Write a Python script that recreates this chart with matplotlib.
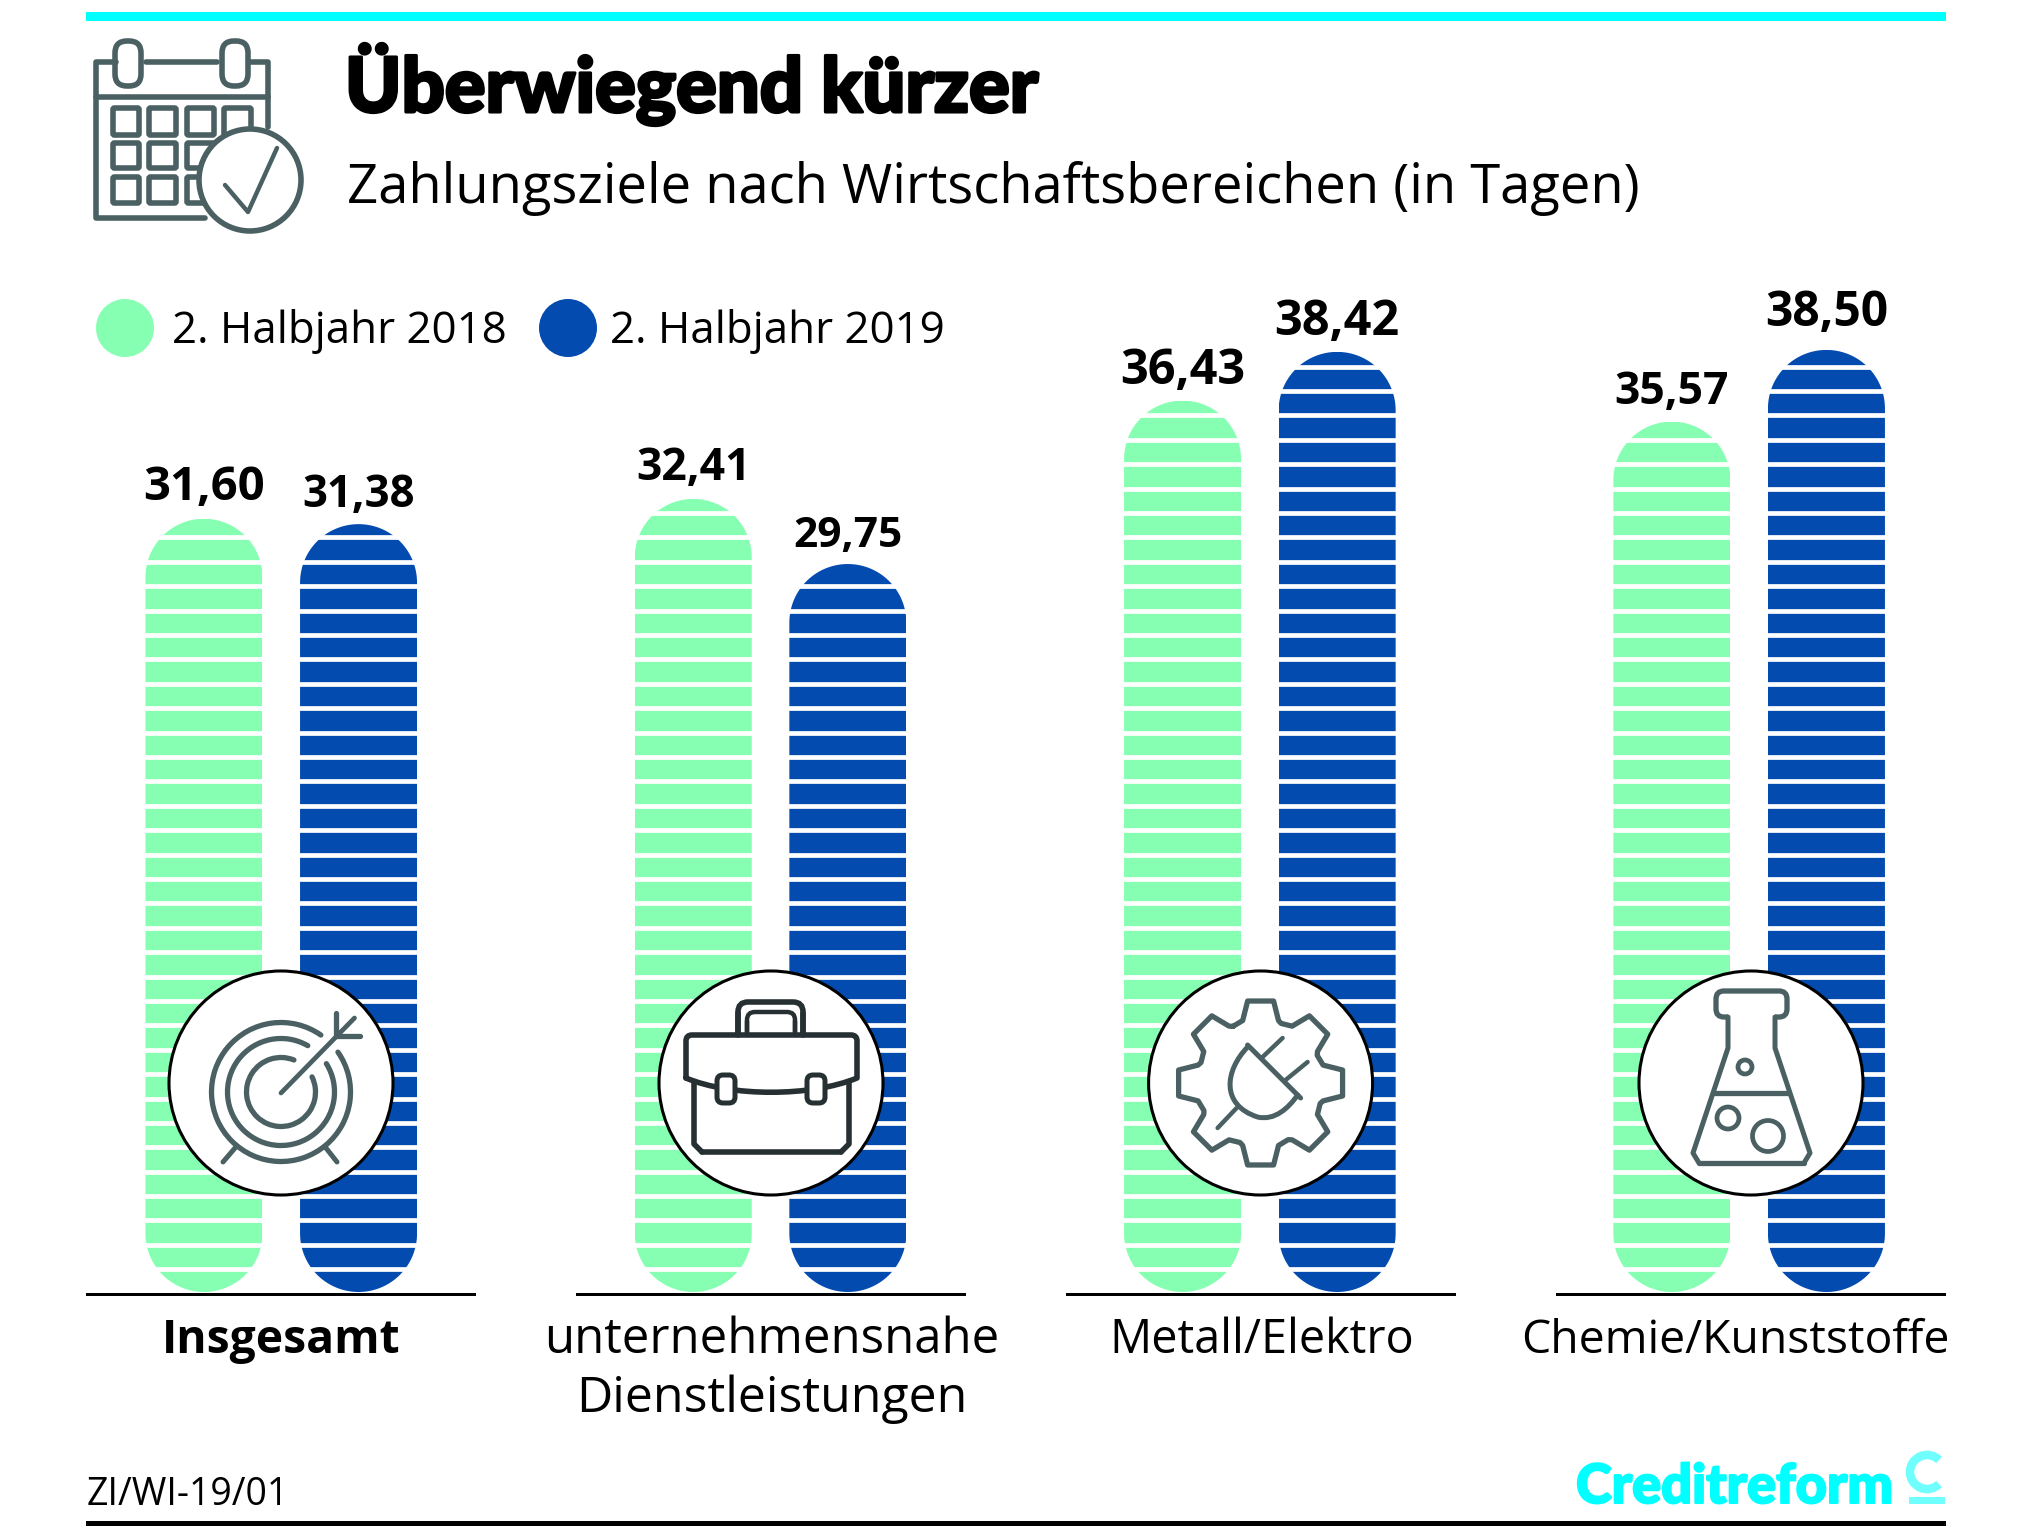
from __future__ import annotations

import matplotlib

matplotlib.use("Agg")

import matplotlib.patheffects as pe
import matplotlib.pyplot as mp
import numpy as np
from matplotlib.patches import Arc, Circle, FancyBboxPatch, PathPatch, Rectangle
from matplotlib.path import Path

# data
categories = ["Insgesamt", "unternehmensnahe\nDienstleistungen", "Metall/Elektro", "Chemie/Kunststoffe"]
series_names = ["2. Halbjahr 2018", "2. Halbjahr 2019"]
values_2018 = [31.60, 32.41, 36.43, 35.57]
values_2019 = [31.38, 29.75, 38.42, 38.50]
title = "Überwiegend kürzer"
subtitle = "Zahlungsziele nach Wirtschaftsbereichen (in Tagen)"
source = "ZI/WI-19/01"
brand = "Creditreform"

W, H = 2036, 1526
GREEN = "#86ffb2"
BLUE = "#044bb0"
CYAN = "#00ffff"
ICON = "#4a6063"
DARK = "#263033"
FONT = "Open Sans"

GROUP_X0, GROUP_STEP = 281.25, 489.3
PX_PER_DAY = 24.47
BASE_Y = 1292.0


def capsule(cx: float, width: float, height: float, ry: float) -> Path:
    t = np.linspace(0, np.pi, 60)
    rx = width / 2
    top = np.column_stack([cx + rx * np.cos(t), height - ry + ry * np.sin(t)])
    bot = np.column_stack([cx - rx * np.cos(t), ry - ry * np.sin(t)])
    pts = np.vstack([top, bot, top[:1]])
    return Path(pts, closed=True)


def line(ax, xs, ys, color=ICON, lw=3.6) -> None:
    ax.plot(xs, ys, color=color, lw=lw, solid_capstyle="round", solid_joinstyle="round", zorder=6)


def box(ax, x0, y0, x1, y1, color=ICON, lw=3.6, pad=4.0, fc="none", zorder=6) -> None:
    ax.add_patch(
        FancyBboxPatch(
            (x0 + pad, y0 + pad), x1 - x0 - 2 * pad, y1 - y0 - 2 * pad,
            boxstyle=f"round,pad={pad},rounding_size={pad}",
            fc=fc, ec=color, lw=lw, zorder=zorder,
        )
    )


def curve(ax, verts, codes, color=ICON, lw=3.6) -> None:
    ax.add_patch(PathPatch(Path(verts, codes), fc="none", ec=color, lw=lw,
                           capstyle="round", joinstyle="round", zorder=6))


def draw_calendar(ax) -> None:
    line(ax, [205, 96, 96, 116], [218, 218, 62, 62], lw=4)
    line(ax, [146, 217], [62, 62], lw=4)
    line(ax, [250, 268, 268], [62, 62, 127], lw=4)
    line(ax, [96, 268], [97, 97], lw=4)
    for cx in (128, 235):
        box(ax, cx - 13, 41, cx + 13, 86, pad=12, lw=4)
    for x0, x1 in ((113, 139), (149, 176), (187, 214), (224, 251)):
        for y0, y1 in ((108, 135), (143, 168), (177, 203)):
            box(ax, x0, y0, x1, y1, pad=1.5, lw=4)
    ax.add_patch(Circle((250, 180), 51, fc="white", ec=ICON, lw=4, zorder=7))
    ax.plot([225, 248, 277], [185, 212, 148], color=ICON, lw=3.2, zorder=8, solid_capstyle="round")


def draw_target(ax, cx, cy) -> None:
    for r, a0, a1 in ((69.5, 55, 395), (53.5, 60, 392), (34.5, 68, 386)):
        # y axis is inverted, so angles run the other way around
        ax.add_patch(Arc((cx, cy + 9), 2 * r, 2 * r, theta1=-a1, theta2=-a0, ec=ICON, lw=3.8,
                         capstyle="round", zorder=6))
    line(ax, [cx, cx + 73.5], [cy + 10, cy - 65], lw=3.4)
    line(ax, [cx + 55.5, cx + 55.5], [cy - 70, cy - 47], lw=3.8)
    line(ax, [cx + 55.5, cx + 79], [cy - 47, cy - 47], lw=3.8)
    line(ax, [cx - 46, cx - 58], [cy + 65, cy + 79], lw=3.6)
    line(ax, [cx + 45, cx + 56], [cy + 65, cy + 79], lw=3.6)


def draw_case(ax, cx, cy) -> None:
    box(ax, cx - 33, cy - 81, cx + 32, cy - 30, color=DARK, pad=10, lw=4)
    box(ax, cx - 24, cy - 71, cx + 24, cy - 30, color=DARK, pad=8, lw=3.2)
    ax.add_patch(Rectangle((cx - 40, cy - 49), 82, 26, fc="white", ec="none", zorder=6))
    line(ax, [cx - 33, cx - 33], [cy - 70, cy - 48], color=DARK, lw=4)
    line(ax, [cx + 32, cx + 32], [cy - 70, cy - 48], color=DARK, lw=4)
    line(ax, [cx - 24, cx - 24], [cy - 62, cy - 48], color=DARK, lw=3.2)
    line(ax, [cx + 24, cx + 24], [cy - 62, cy - 48], color=DARK, lw=3.2)
    x0, x1 = cx - 85, cx + 86
    verts = [(x0, cy - 5), (x0, cy - 42), (x0, cy - 48), (x0 + 6, cy - 48), (x1 - 6, cy - 48),
             (x1, cy - 48), (x1, cy - 42), (x1, cy - 5),
             (cx + 40, cy + 14), (cx - 40, cy + 14), (x0, cy - 5)]
    codes = [Path.MOVETO, Path.LINETO, Path.CURVE3, Path.CURVE3, Path.LINETO,
             Path.CURVE3, Path.CURVE3, Path.LINETO, Path.CURVE4, Path.CURVE4, Path.CURVE4]
    curve(ax, verts, codes, color=DARK, lw=4)
    line(ax, [cx - 77, cx - 77, cx - 69], [cy - 1, cy + 61, cy + 69], color=DARK, lw=4)
    line(ax, [cx - 69, cx + 70], [cy + 69, cy + 69], color=DARK, lw=4)
    line(ax, [cx + 78, cx + 78, cx + 70], [cy - 1, cy + 61, cy + 69], color=DARK, lw=4)
    for off in (-45, 45):
        box(ax, cx + off - 9, cy - 8, cx + off + 9, cy + 20, color=DARK, pad=6, fc="white", lw=3.6)


def draw_gear(ax, cx, cy) -> None:
    xs, ys = [], []
    r_out, r_in = 83, 63
    for k in range(8):
        a = np.deg2rad(k * 45 - 90)
        for da, r in ((-26, r_in), (-16, r_in + 2), (-9, r_out), (9, r_out), (16, r_in + 2)):
            xs.append(cx + r * np.cos(a + np.deg2rad(da)))
            ys.append(cy + r * np.sin(a + np.deg2rad(da)))
    line(ax, xs + xs[:1], ys + ys[:1], lw=3.8)
    line(ax, [cx - 13, cx + 40], [cy - 38, cy + 15], lw=3.6)
    curve(ax, [(cx - 13, cy - 36), (cx - 36, cy - 12), (cx - 40, cy + 22), (cx - 3, cy + 34),
               (cx + 14, cy + 38), (cx + 28, cy + 25), (cx + 37, cy + 12)],
          [Path.MOVETO, Path.CURVE4, Path.CURVE4, Path.CURVE4, Path.CURVE4, Path.CURVE4, Path.CURVE4],
          lw=3.6)
    line(ax, [cx + 2, cx + 22], [cy - 26, cy - 45], lw=3.2)
    line(ax, [cx + 25, cx + 47], [cy - 3, cy - 21], lw=3.2)
    line(ax, [cx - 24, cx - 43], [cy + 25, cy + 45], lw=3.2)


def draw_flask(ax, cx, cy) -> None:
    box(ax, cx - 35, cy - 92, cx + 36, cy - 66, pad=8, lw=3.8)
    ax.add_patch(Rectangle((cx - 23, cy - 70), 47, 8, fc="white", ec="none", zorder=6))
    line(ax, [cx - 23, cx - 23, cx - 58, cx - 52], [cy - 66, cy - 35, cy + 70, cy + 80])
    line(ax, [cx + 24, cx + 24, cx + 59, cx + 53], [cy - 66, cy - 35, cy + 70, cy + 80])
    line(ax, [cx - 52, cx + 53], [cy + 80, cy + 80], lw=3.8)
    line(ax, [cx - 37, cx + 38], [cy + 10, cy + 10], lw=3.8)
    for bx, by, r in ((-6, -16, 7), (-23, 35, 11), (17, 53, 15.5)):
        ax.add_patch(Circle((cx + bx, cy + by), r, fc="none", ec=ICON, lw=3.4, zorder=6))


mp.rcParams["font.family"] = [FONT, "DejaVu Sans"]
fig = mp.figure(figsize=(W / 100, H / 100), dpi=100, facecolor="white")

# data axes: x in groups, y in days, laid over the whole figure
ax = fig.add_axes([0, 0, 1, 1])
ax.set_xlim(-GROUP_X0 / GROUP_STEP, (W - GROUP_X0) / GROUP_STEP)
ax.set_ylim((BASE_Y - H) / PX_PER_DAY, BASE_Y / PX_PER_DAY)
ax.axis("off")

bar_w = 117.0 / GROUP_STEP
offset = 77.3 / GROUP_STEP
cap_ry = 58.5 / PX_PER_DAY
x = np.arange(len(categories))
label_sizes = [[34, 32, 35, 32], [31.5, 30.5, 35, 34.5]]
label_lift = [[13.5, 13.5, 12, 13], [12, 12, 12, 17.5]]

for k, (vals, col, sizes, lifts) in enumerate(zip((values_2018, values_2019), (GREEN, BLUE), label_sizes, label_lift)):
    xs = x + (2 * k - 1) * offset
    bars = ax.bar(xs, vals, width=bar_w, color=col, zorder=2)
    for rect, cx, v, fs, lift in zip(bars, xs, vals, sizes, lifts):
        rect.set_clip_path(capsule(cx, bar_w, v, cap_ry), transform=ax.transData)
        gaps = np.arange(0.928, v, 0.997)
        ax.hlines(gaps, cx - bar_w / 2 - 0.005, cx + bar_w / 2 + 0.005, color="white", lw=3.4, zorder=3)
        ax.annotate(f"{v:.2f}".replace(".", ","), (cx, v), xytext=(0, lift), textcoords="offset points",
                    ha="center", va="baseline", fontsize=fs, fontweight="bold", color="black")

# overlay axes in image pixels for the decoration
ov = fig.add_axes([0, 0, 1, 1], zorder=5)
ov.set_xlim(0, W)
ov.set_ylim(H, 0)
ov.axis("off")
ov.patch.set_alpha(0)

ov.add_patch(Rectangle((86, 12), 1860, 9, fc=CYAN, ec="none"))
ov.add_patch(Rectangle((86, 1521), 1860, 4.5, fc="black", ec="none"))
draw_calendar(ov)

ov.text(345, 112, title, fontsize=54.6, fontweight="black", family="Lato", color="black", va="baseline",
        path_effects=[pe.withStroke(linewidth=2.2, foreground="black")])
ov.text(347, 203, subtitle, fontsize=39.2, color="black", va="baseline")

for cx, col, tx, name in zip((125, 568), (GREEN, BLUE), (172, 610), series_names):
    ov.add_patch(Circle((cx, 328), 29, fc=col, ec="none"))
    ov.text(tx, 343, name, fontsize=31.6, color="black", va="baseline")

rule_x = [86, 576, 1066, 1556]
cat_x = [281, 772, 1262, 1735]
cat_sizes = [[33.3], [35.4, 36], [33.7], [33.3]]
for i, (name, rx, cx, sizes) in enumerate(zip(categories, rule_x, cat_x, cat_sizes)):
    ov.add_patch(Rectangle((rx, 1293), 390, 2.6, fc="black", ec="none"))
    for j, (part, fs) in enumerate(zip(name.split("\n"), sizes)):
        ov.text(cx, 1353 + j * 59, part, fontsize=fs, ha="center", va="baseline", color="black",
                fontweight="bold" if i == 0 else "normal")

icon_x = [281, 771, 1260.6, 1751]
for ix in icon_x:
    ov.add_patch(Circle((ix, 1083), 112, fc="white", ec="black", lw=2.2, zorder=4))
draw_target(ov, icon_x[0], 1083)
draw_case(ov, icon_x[1], 1083)
draw_gear(ov, icon_x[2], 1083)
draw_flask(ov, icon_x[3], 1083)

ov.text(87, 1505, source, fontsize=27, color="black", va="baseline")
ov.text(1576, 1503, brand, fontsize=39, fontweight="black", family="Lato", color=CYAN, va="baseline",
        path_effects=[pe.withStroke(linewidth=1.5, foreground=CYAN)])
ov.add_patch(Arc((1927, 1472), 34, 34, theta1=45, theta2=315, ec="#70ffff", lw=6.2, zorder=6))
ov.add_patch(Rectangle((1909, 1497), 36, 6.5, fc="#70ffff", ec="none"))

fig.savefig("out.png", dpi=100)
